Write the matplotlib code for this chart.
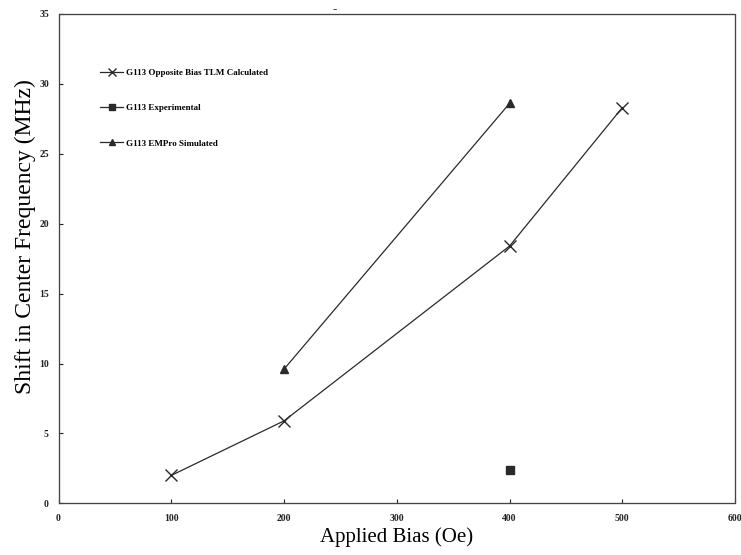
import matplotlib
matplotlib.use("Agg")
import matplotlib.pyplot as plt

# Shift in center frequency vs applied bias
tlm_bias = [100, 200, 400, 500]
tlm_shift = [2.0, 5.9, 18.4, 28.3]

exp_bias = [400]
exp_shift = [2.4]

empro_bias = [200, 400]
empro_shift = [9.6, 28.6]

x_ticks = [0, 100, 200, 300, 400, 500, 600]
y_ticks = [0, 5, 10, 15, 20, 25, 30, 35]

serif = ["Liberation Serif", "DejaVu Serif"]

fig = plt.figure(figsize=(7.41, 5.55), dpi=100)
ax = fig.add_axes([0.079, 0.093, 0.913, 0.882])

ax.plot(tlm_bias, tlm_shift, color="#2a2a2a", lw=0.9, marker="x", ms=8,
        mew=1.0, label="G113 Opposite Bias TLM Calculated")
ax.plot(exp_bias, exp_shift, color="#2a2a2a", lw=0.9, marker="s", ms=6,
        linestyle="-", label="G113 Experimental")
ax.plot(empro_bias, empro_shift, color="#2a2a2a", lw=0.9, marker="^", ms=6,
        label="G113 EMPro Simulated")

ax.set_xlim(0, 600)
ax.set_ylim(0, 35)
ax.set_xticks(x_ticks)
ax.set_yticks(y_ticks)
ax.tick_params(direction="in", length=3, width=0.8, labelsize=7, colors="#222222")
ax.tick_params(axis="y", pad=7)
ax.tick_params(axis="x", pad=8)
for lab in ax.get_xticklabels() + ax.get_yticklabels():
    lab.set_family(serif)
    lab.set_fontweight("bold")
for sp in ax.spines.values():
    sp.set_color("#444444")
    sp.set_linewidth(0.9)
    sp.set_linestyle((0, (1, 0.6)))

ax.set_xlabel("Applied Bias (Oe)", family=serif, fontsize=15, labelpad=3)
ax.set_ylabel("Shift in Center Frequency (MHz)", family=serif, fontsize=17)
ax.yaxis.set_label_coords(-0.034, 0.545)

leg = ax.legend(loc="upper left", bbox_to_anchor=(0.05, 0.905), frameon=False,
                prop={"family": serif, "size": 6.5, "weight": "bold"},
                labelspacing=3.0, handlelength=2.5, handletextpad=0.3,
                markerscale=0.7)

fig.text(0.452, 0.995, "-", ha="center", va="top", fontsize=9, family=serif,
         fontweight="bold")

fig.savefig("out.png", dpi=100)
